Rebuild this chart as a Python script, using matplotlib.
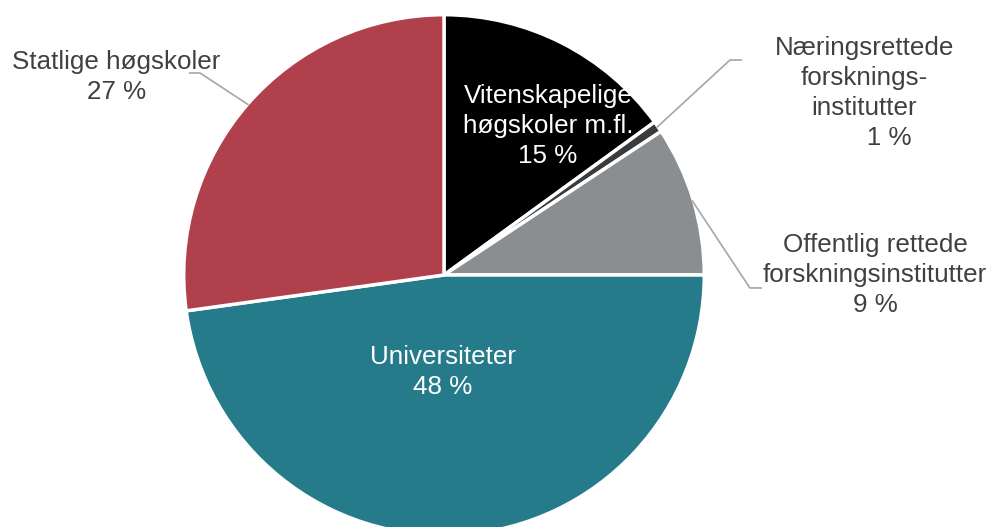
import numpy as np
import matplotlib
matplotlib.use('Agg')
import matplotlib.pyplot as plt

plt.rcParams['font.family'] = ['Liberation Sans', 'DejaVu Sans']

# data (share of total)
categories = ['Vitenskapelige høgskoler m.fl.', 'Næringsrettede forskningsinstitutter',
              'Offentlig rettede forskningsinstitutter', 'Universiteter', 'Statlige høgskoler']
shares = [15.0, 0.7, 9.3, 47.8, 27.2]
labels = ['Vitenskapelige\nhøgskoler m.fl.\n15 %',
          'Næringsrettede\nforsknings-\ninstitutter\n       1 %',
          'Offentlig rettede\nforskningsinstitutter\n9 %',
          'Universiteter\n48 %',
          'Statlige høgskoler\n27 %']
colors = ['#000000', '#3b3b3b', '#8a8e91', '#267b8a', '#b0404c']

# label positions in pie units (radius = 1)
label_pos = [(0.402, 0.575), (1.622, 0.703), (1.664, 0.0), (-0.004, -0.375), (-1.266, 0.764)]
label_col = ['white', '#404040', '#404040', 'white', '#404040']
# leader line elbows / ends (None = label inside)
leaders = [None, [(1.104, 0.830), (1.151, 0.830)], [(1.181, -0.050), (1.228, -0.050)],
           None, [(-0.942, 0.780), (-0.985, 0.780)]]

fig = plt.figure(figsize=(9.93, 5.27), dpi=100)
ax = fig.add_axes([0, 0, 1, 1])

wedges, _ = ax.pie(shares, colors=colors, startangle=90, counterclock=False,
                   radius=1.005, center=(0, 0),
                   wedgeprops=dict(edgecolor='white', linewidth=2.5))

for w, lab, pos, col, lead in zip(wedges, labels, label_pos, label_col, leaders):
    ax.text(pos[0], pos[1], lab, ha='center', va='center', fontsize=18.7,
            color=col, multialignment='center', linespacing=1.32)
    if lead:
        mid = np.deg2rad((w.theta1 + w.theta2) / 2)
        xs = [np.cos(mid) * 1.0] + [p[0] for p in lead]
        ys = [np.sin(mid) * 1.0] + [p[1] for p in lead]
        ax.plot(xs, ys, color='#a6a6a6', lw=1.2, solid_capstyle='butt')

ax.set_xlim(-1.7143, 2.1197)
ax.set_ylim(-0.973, 1.0618)
ax.set_aspect('equal')
ax.axis('off')

fig.savefig('out.png', dpi=100)
